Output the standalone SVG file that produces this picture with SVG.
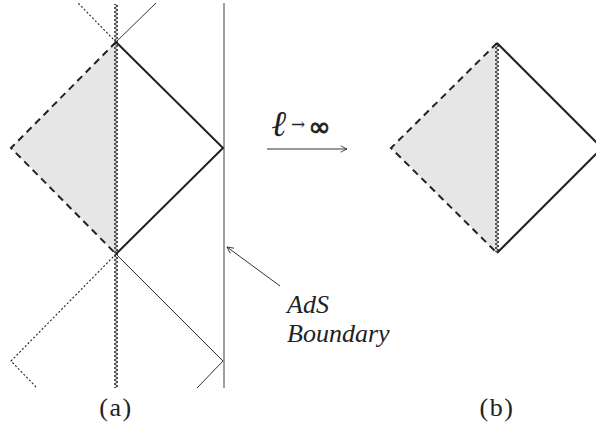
<svg xmlns="http://www.w3.org/2000/svg" width="596" height="430" viewBox="0 0 596 430">
<defs>
<pattern id="zz" patternUnits="userSpaceOnUse" x="0" y="0" width="596" height="4">
<path d="M114,0 L118,2 L114,4" fill="none" stroke="#222" stroke-width="1"/>
<path d="M495,0 L499,2 L495,4" fill="none" stroke="#222" stroke-width="1"/>
</pattern>
<marker id="ah" viewBox="0 0 10 10" refX="9" refY="5" markerWidth="8" markerHeight="8" orient="auto" markerUnits="userSpaceOnUse">
<path d="M1,1 L9,5 L1,9" fill="none" stroke="#222" stroke-width="1"/>
</marker>
</defs>
<style>
.thick{stroke:#222;stroke-width:2;fill:none}
.dash{stroke:#222;stroke-width:2;fill:none;stroke-dasharray:7,5}
.thin{stroke:#333;stroke-width:1;fill:none}
.dot{stroke:#222;stroke-width:1.1;fill:none;stroke-dasharray:2,2}
.shade{fill:#e6e6e7;stroke:none}
.lbl{font-family:"Liberation Serif",serif;font-size:26px;letter-spacing:1.5px;fill:#222}
.it{font-family:"Liberation Serif",serif;font-style:italic;font-size:26px;fill:#222}
</style>
<g id="diagram-a">
<polygon class="shade" points="116,42 11,148 116,254"/>
<line x1="224" y1="3" x2="224" y2="388" stroke="#888" stroke-width="1.6"/>
<rect x="112" y="4" width="8" height="384" fill="url(#zz)"/>
<polyline class="dash" points="116,42 11,148 116,254"/>
<polyline class="thick" points="116,42 223,148 116,254"/>
<line class="thin" x1="116" y1="42" x2="156" y2="3"/>
<line class="dot" x1="116" y1="42" x2="78" y2="3"/>
<polyline class="thin" points="116,254 223,361 197,388"/>
<polyline class="dot" points="116,254 11,361 37,388"/>
<text class="lbl" x="116" y="416" text-anchor="middle">(a)</text>
</g>
<g id="diagram-b">
<polygon class="shade" points="497,43 391,148 497,253"/>
<rect x="493" y="44" width="8" height="208" fill="url(#zz)"/>
<polyline class="dash" points="497,43 391,148 497,253"/>
<polyline class="thick" points="497,43 602,148 497,253"/>
<text class="lbl" x="497" y="416" text-anchor="middle">(b)</text>
</g>
<g id="connectors">
<line class="thin" x1="267" y1="149" x2="347" y2="149" marker-end="url(#ah)"/>
<line class="thin" x1="280" y1="286" x2="227" y2="247" marker-end="url(#ah)"/>
</g>
<g id="limit-label">
<text x="271" y="136" font-family="'DejaVu Serif',serif" fill="#222"><tspan font-size="36" font-style="italic">ℓ</tspan><tspan font-size="17" dx="5" dy="-6">→</tspan><tspan font-size="27" dx="3" dy="6" font-family="'DejaVu Sans',sans-serif" stroke="#222" stroke-width="0.8">∞</tspan></text>
</g>
<g id="boundary-label">
<text class="it" x="287" y="313">AdS</text>
<text class="it" x="287" y="342">Boundary</text>
</g>
</svg>
